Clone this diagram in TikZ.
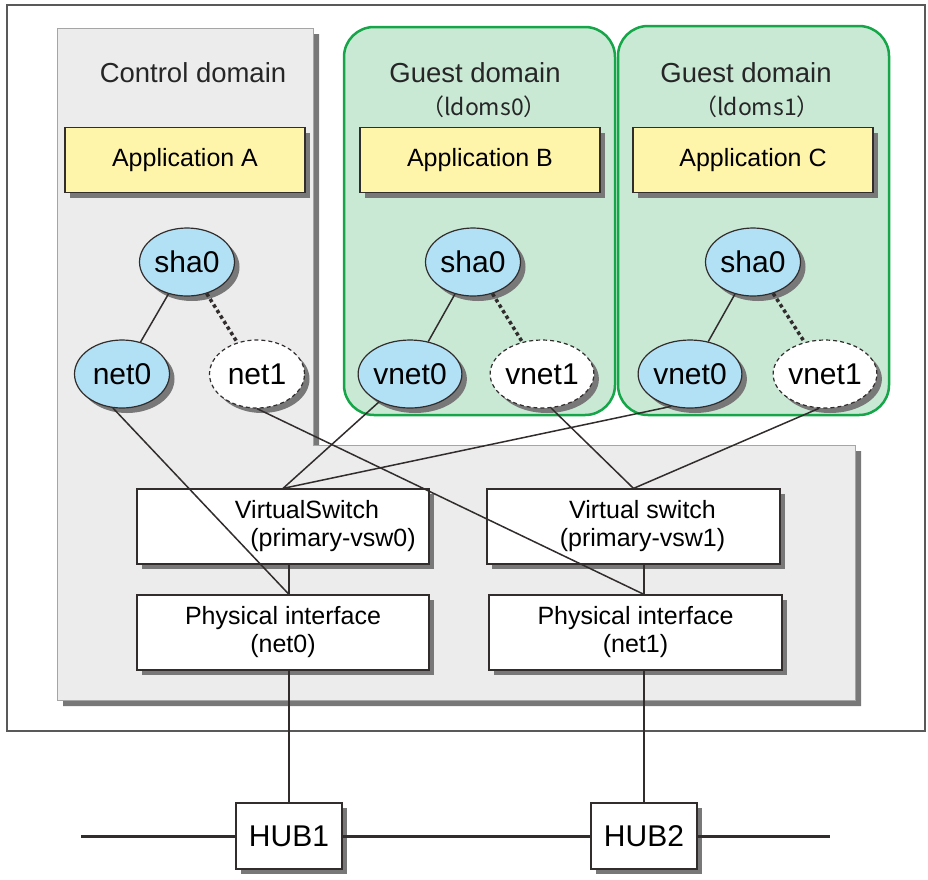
\documentclass[tikz,border=0pt]{standalone}
\usepackage{fontspec}
\setmainfont{Liberation Sans}
\newfontfamily\cjkfont{Noto Sans CJK JP}
\usetikzlibrary{shapes.geometric,shadows,calc}
\definecolor{panelgray}{RGB}{236,236,236}
\definecolor{panelline}{RGB}{165,165,165}
\definecolor{shadowgray}{RGB}{120,120,120}
\definecolor{guestgreen}{RGB}{22,165,72}
\definecolor{guestfill}{RGB}{201,233,213}
\definecolor{appyellow}{RGB}{255,245,170}
\definecolor{nicblue}{RGB}{178,224,245}
\definecolor{linegray}{RGB}{50,45,45}

\begin{document}
\begin{tikzpicture}[x=1pt, y=-1pt,
  withshadow/.style={drop shadow={shadow xshift=5pt, shadow yshift=-5pt, fill=shadowgray, opacity=1}},
  title/.style={font=\fontsize{27.5}{30}\selectfont, text=black!85},
  subtitle/.style={font=\cjkfont\fontsize{23}{26}\selectfont, text=black!85},
  appbox/.style={draw=linegray, line width=1.2pt, fill=appyellow, withshadow, minimum width=240pt, minimum height=65pt, font=\fontsize{25}{28}\selectfont},
  nic/.style={ellipse, draw=linegray, line width=1.2pt, fill=nicblue, withshadow, minimum width=95pt, minimum height=68pt, inner sep=0pt, font=\fontsize{30}{32}\selectfont},
  nicoff/.style={nic, fill=white, dash pattern=on 4pt off 3pt},
  swbox/.style={draw=linegray, line width=1.2pt, fill=white, withshadow, minimum width=292pt, minimum height=75pt, align=center, font=\fontsize{25}{28}\selectfont},
  hubbox/.style={draw=linegray, line width=1.2pt, fill=white, withshadow, minimum width=106pt, minimum height=66pt, font=\fontsize{30}{32}\selectfont},
  link/.style={draw=linegray, line width=1.5pt},
  standby/.style={draw=linegray, line width=3.5pt, dash pattern=on 3.5pt off 3pt},
  lan/.style={draw=linegray, line width=3pt}
]
  \useasboundingbox (0,0) rectangle (928,879);

  % server frame
  \draw[draw=black!65, line width=1.5pt] (7,5) rectangle (925,731);

  % control domain + I/O panel
  \fill[shadowgray, shift={(6,6)}] (57,28) -- (313,28) -- (313,445) -- (855,445) -- (855,700) -- (57,700) -- cycle;
  \filldraw[fill=panelgray, draw=panelline, line width=1pt] (57,28) -- (313,28) -- (313,445) -- (855,445) -- (855,700) -- (57,700) -- cycle;

  % guest domains
  \filldraw[fill=guestfill, draw=guestgreen, line width=2.5pt, rounded corners=30pt] (344,27) rectangle (615,415);
  \filldraw[fill=guestfill, draw=guestgreen, line width=2.5pt, rounded corners=30pt] (618,26) rectangle (889,415);

  \node[title] (ctltitle) at (193,73) {Control domain};
  \node[title] (g0title) at (475,73) {Guest domain};
  \node[subtitle] (g0name) at (484,107) {（ldoms0）};
  \node[title] (g1title) at (746,73) {Guest domain};
  \node[subtitle] (g1name) at (757,107) {（ldoms1）};

  % applications
  \node[appbox] (appA) at (185,160) {Application A};
  \node[appbox] (appB) at (480,160) {Application B};
  \node[appbox] (appC) at (753,160) {Application C};

  % interfaces
  \node[nic] (c-sha0) at (187,262) {sha0};
  \node[nic] (c-net0) at (122,374) {net0};
  \node[nicoff] (c-net1) at (257,374) {net1};
  \node[nic] (g0-sha0) at (473,262) {sha0};
  \node[nic] (g0-vnet0) at (410,374) {vnet0};
  \node[nicoff] (g0-vnet1) at (542,374) {vnet1};
  \node[nic] (g1-sha0) at (753,262) {sha0};
  \node[nic] (g1-vnet0) at (690,374) {vnet0};
  \node[nicoff] (g1-vnet1) at (825,374) {vnet1};

  % switches and physical ports
  \node[swbox] (vsw0) at (283,526.5) {\hspace*{48pt}VirtualSwitch\\\hspace*{100pt}(primary-vsw0)};
  \node[swbox, minimum width=293pt] (vsw1) at (633.5,526.5) {\hspace*{18pt}Virtual switch\\\hspace*{18pt}(primary-vsw1)};
  \node[swbox] (pif0) at (283,632.5) {Physical interface\\(net0)};
  \node[swbox, minimum width=293pt] (pif1) at (635.5,632.5) {Physical interface\\(net1)};

  % hubs
  \node[hubbox] (hub1) at (289,836) {HUB1};
  \node[hubbox] (hub2) at (644,836) {HUB2};
  \coordinate (lanL) at (81,836);
  \coordinate (lanR) at (830,836);

  % connections
  \draw[link] (c-sha0) -- (c-net0);
  \draw[standby] (c-sha0) -- (c-net1);
  \draw[link] (g0-sha0) -- (g0-vnet0);
  \draw[standby] (g0-sha0) -- (g0-vnet1);
  \draw[link] (g1-sha0) -- (g1-vnet0);
  \draw[standby] (g1-sha0) -- (g1-vnet1);

  \draw[link] (c-net0.-105) -- (pif0.north -| hub1.north);
  \draw[link] (c-net1.south) -- (pif1.north -| hub2.north);
  \draw[link] (g0-vnet0) -- (vsw0.north);
  \draw[link] (g1-vnet0.-120) -- (vsw0.north);
  \draw[link] (g0-vnet1.-75) -- (vsw1.north);
  \draw[link] (g1-vnet1.-100) -- (vsw1.north);

  \draw[link] (vsw0.south -| hub1.north) -- (pif0.north -| hub1.north);
  \draw[link] (vsw1.south -| hub2.north) -- (pif1.north -| hub2.north);
  \draw[link] (pif0.south -| hub1.north) -- (hub1.north);
  \draw[link] (pif1.south -| hub2.north) -- (hub2.north);

  \draw[lan] (lanL) -- (hub1.west) (hub1.east) -- (hub2.west) (hub2.east) -- (lanR);
\end{tikzpicture}
\end{document}
